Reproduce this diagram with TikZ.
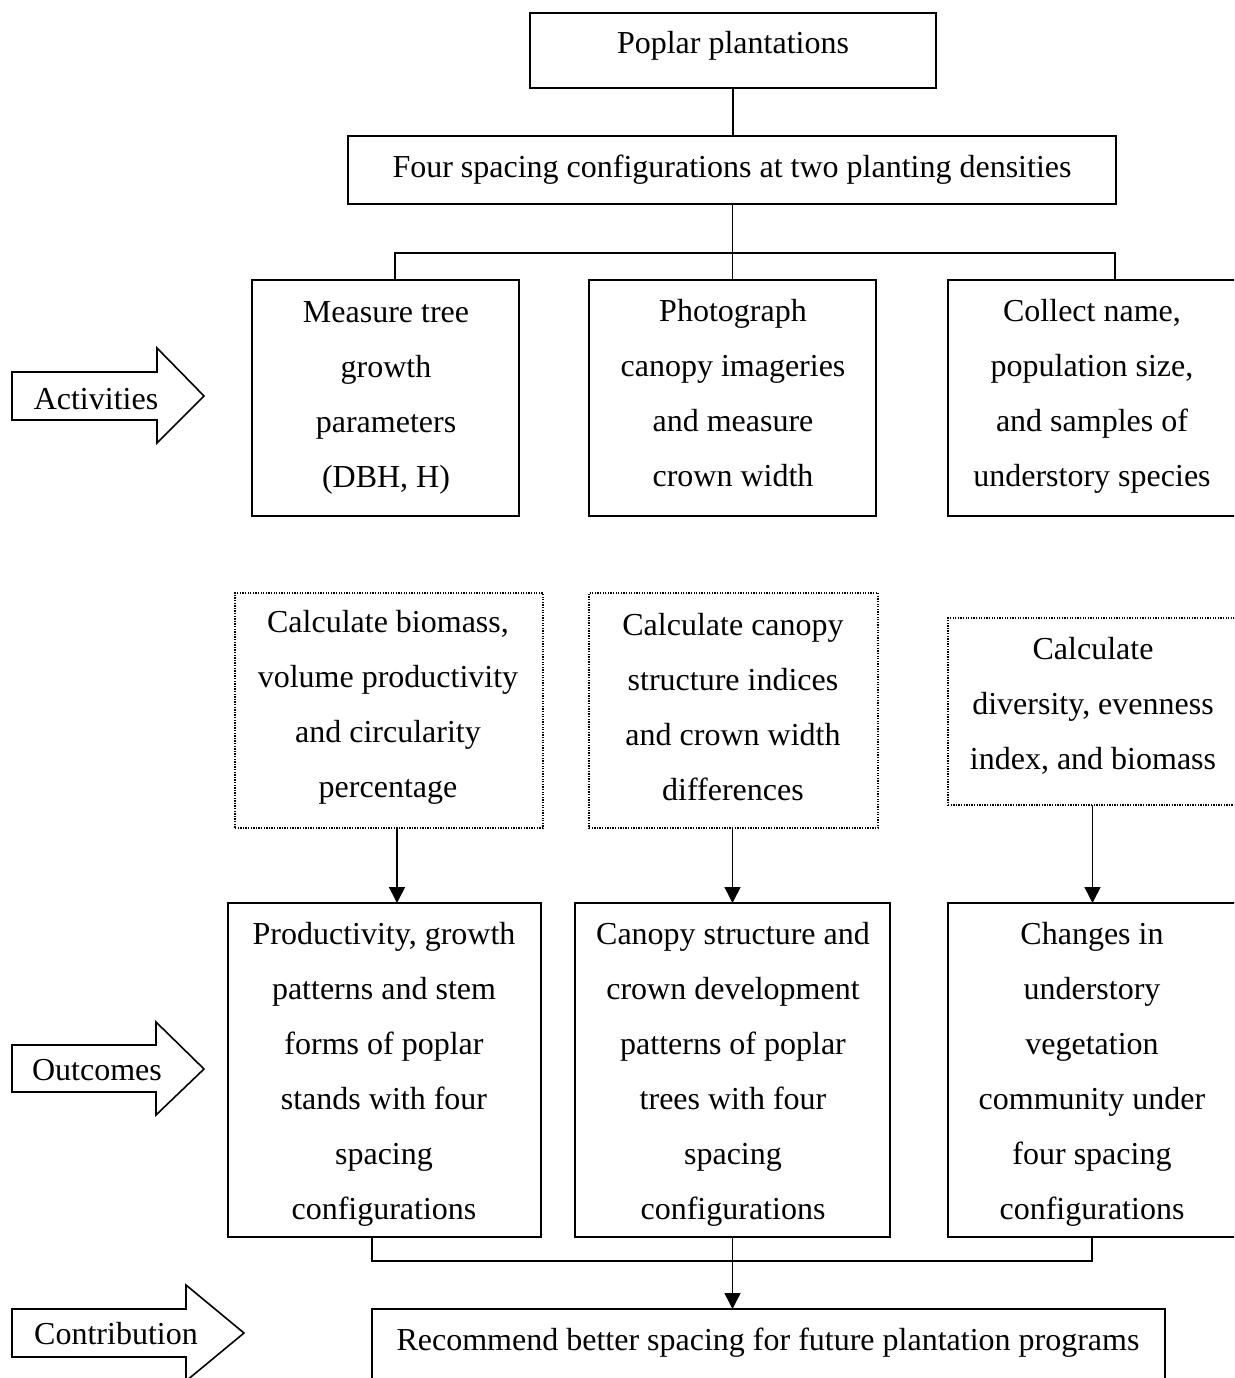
\documentclass[tikz,border=0pt]{standalone}
\usepackage{fontspec}
\setmainfont{Liberation Serif}
\usetikzlibrary{arrows.meta}
\begin{document}
\begin{tikzpicture}[x=1pt,y=-1pt,
  box/.style={draw, line width=1.8pt, inner sep=0pt, outer sep=0pt, rectangle},
  dotbox/.style={draw, line width=1.3pt, dash pattern=on 1.3pt off 1.3pt, inner sep=0pt, outer sep=0pt, rectangle},
  txt/.style={inner sep=0pt, align=center, font=\fontsize{32}{55}\selectfont},
  conn/.style={line width=1.6pt},
  arr/.style={line width=1.6pt, -{Triangle[width=16pt,length=16pt]}},
  bigarrow/.style={draw, line width=1.6pt, fill=white, line join=miter}]
\useasboundingbox (0,0) rectangle (1234,1378);
\clip (0,0) rectangle (1234,1378);
\fill[white] (0,0) rectangle (1234,1378);

% boxes
\node[box, minimum width=406, minimum height=75] (top) at (733,50.5) {};
\node[box, minimum width=768, minimum height=68] (conf) at (732,170) {};
\node[box, minimum width=267, minimum height=236] (A1) at (385.5,398) {};
\node[box, minimum width=287, minimum height=236] (A2) at (732.5,398) {};
\node[box, minimum width=289, minimum height=236] (A3) at (1092.5,398) {};
\node[dotbox, minimum width=308, minimum height=235] (D1) at (389,710.5) {};
\node[dotbox, minimum width=289, minimum height=235] (D2) at (733.5,710.5) {};
\node[dotbox, minimum width=289, minimum height=187] (D3) at (1092.5,711.5) {};
\node[box, minimum width=313, minimum height=334] (O1) at (384.5,1070) {};
\node[box, minimum width=315, minimum height=334] (O2) at (732.5,1070) {};
\node[box, minimum width=289, minimum height=334] (O3) at (1092.5,1070) {};
\node[box, minimum width=793, minimum height=111] (B) at (768.5,1364.5) {};

% texts
\node[txt] (tTop) at (733,46) {Poplar plantations};
\node[txt] (tConf) at (732,170) {Four spacing configurations at two planting densities};
\node[txt] (tA1) at (386,397.5) {Measure tree\\growth\\parameters\\(DBH, H)};
\node[txt] (tA2) at (733,393) {Photograph\\canopy imageries\\and measure\\crown width};
\node[txt] (tA3) at (1092,396.5) {Collect name,\\population size,\\and samples of\\understory species};
\node[txt] (tD1) at (388,707.5) {Calculate biomass,\\volume productivity\\and circularity\\percentage};
\node[txt] (tD2) at (733,707.5) {Calculate canopy\\structure indices\\and crown width\\differences};
\node[txt] (tD3) at (1093,705.5) {Calculate\\diversity, evenness\\index, and biomass};
\node[txt] (tO1) at (384,1074.5) {Productivity, growth\\patterns and stem\\forms of poplar\\stands with four\\spacing\\configurations};
\node[txt] (tO2) at (733,1074.5) {Canopy structure and\\crown development\\patterns of poplar\\trees with four\\spacing\\configurations};
\node[txt] (tO3) at (1092,1074.5) {Changes in\\understory\\vegetation\\community under\\four spacing\\configurations};
\node[txt] (tB) at (768,1343) {Recommend better spacing for future plantation programs};

% side arrows
\draw[bigarrow] (12,372) -- (157,372) -- (157,348) -- (204,396) -- (157,443) -- (157,420) -- (12,420) -- cycle;
\node[txt] (lAct) at (96,399.5) {Activities};
\draw[bigarrow] (12,1045) -- (156,1045) -- (156,1022) -- (204,1069) -- (156,1115) -- (156,1092) -- (12,1092) -- cycle;
\node[txt] (lOut) at (97,1070) {Outcomes};
\draw[bigarrow] (12,1309) -- (186,1309) -- (186,1285) -- (244,1333) -- (186,1381) -- (186,1357) -- (12,1357) -- cycle;
\node[txt] (lCon) at (116,1334) {Contribution};

% connectors
\coordinate (hL) at (395,253);
\coordinate (hR) at (1115,253);
\coordinate (bL) at (372,1261);
\coordinate (bR) at (1092,1261);
\draw[conn] (top.south) -- (top.south |- conf.north);
\draw[conn] (conf.south -| A2.north) -- (A2.north);
\draw[conn] (A1.north -| hL) -- (hL) -- (hR) -- (A3.north -| hR);
\draw[arr] ([xshift=8pt]D1.south) -- ([xshift=8pt]D1.south |- O1.north);
\draw[arr] (D2.south -| O2.north) -- (O2.north);
\draw[arr] (D3.south) -- (D3.south |- O3.north);
\draw[conn] (O1.south -| bL) -- (bL) -- (bR) -- (O3.south -| bR);
\draw[arr] (O2.south) -- (O2.south |- B.north);
\end{tikzpicture}
\end{document}
